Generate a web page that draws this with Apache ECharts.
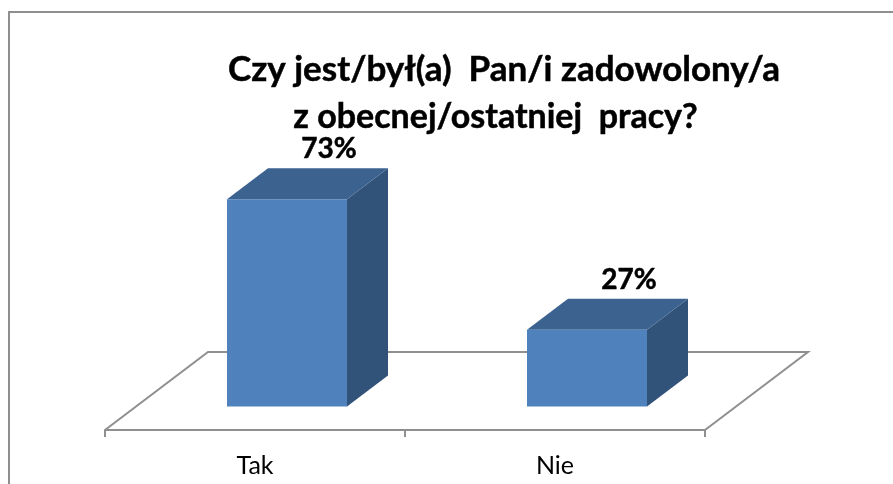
<!DOCTYPE html>
<html><head><meta charset="utf-8">
<style>html,body{margin:0;padding:0;background:#fff}#c{width:893px;height:484px}</style>
<script src="https://cdn.jsdelivr.net/npm/echarts@6/dist/echarts.min.js"></script>
</head><body><div id="c"></div>
<script>
const categories = ['Tak', 'Nie'];
const values = [73, 27];
const titleLine1 = 'Czy jest/był(a)  Pan/i zadowolony/a';
const titleLine2 = 'z obecnej/ostatniej  pracy?';

const FONT = 'Lato, "Open Sans", sans-serif';
const chart = echarts.init(document.getElementById('c'), null, {renderer: 'canvas'});
const shiftX = 32, shiftY = -23.5, depthX = 41, depthY = -31;
const GREY = '#8f8f8f';

function renderFloor(params, api) {
  const s = params.coordSys;
  const b = s.y + s.height, dx = 103, dy = -78;
  return {
    type: 'polyline', silent: true,
    shape: {points: [[s.x, b], [s.x + dx, b + dy], [s.x + s.width + dx, b + dy], [s.x + s.width, b]]},
    style: {fill: null, stroke: GREY, lineWidth: 2}
  };
}
function renderBar(params, api) {
  const top = api.coord([api.value(0), api.value(1)]);
  const base = api.coord([api.value(0), 0]);
  const w = api.size([1, 0])[0] * 0.4;
  const x0 = top[0] + shiftX - w / 2, x1 = x0 + w;
  const yt = top[1] + shiftY, yb = base[1] + shiftY;
  return {
    type: 'group',
    children: [
      {type: 'polygon', shape: {points: [[x1, yt], [x1 + depthX, yt + depthY], [x1 + depthX, yb + depthY], [x1, yb]]}, style: {fill: '#325379'}},
      {type: 'polygon', shape: {points: [[x0, yt], [x0 + depthX, yt + depthY], [x1 + depthX, yt + depthY], [x1, yt]]}, style: {fill: '#3c628f'}},
      {type: 'rect', shape: {x: x0, y: yt, width: w, height: yb - yt}, style: {fill: '#4f81bd'}},
      {type: 'text', style: {x: (x0 + x1) / 2 + depthX + 1, y: yt + depthY - 19, text: api.value(1) + '%', fill: '#000', font: 'bold 28px ' + FONT, align: 'center', verticalAlign: 'middle', stroke: '#000', lineWidth: 0.5}}
    ]
  };
}
const titleStyle = {fontFamily: FONT, fontWeight: 'bold', fontSize: 34, color: '#000', textBorderColor: '#000', textBorderWidth: 0.5};
chart.setOption({
  animation: false,
  backgroundColor: '#fff',
  title: [
    {text: titleLine1, left: 499, top: 47, textAlign: 'center', textStyle: {...titleStyle, fontSize: 35}},
    {text: titleLine2, left: 490.5, top: 95, textAlign: 'center', textStyle: titleStyle}
  ],
  graphic: [{type: 'rect', shape: {x: 9, y: 12, width: 900, height: 490}, style: {fill: null, stroke: GREY, lineWidth: 2}, silent: true}],
  grid: {left: 105, width: 600, top: 146, height: 284},
  xAxis: {
    type: 'category', data: categories, boundaryGap: true,
    axisLine: {lineStyle: {color: GREY, width: 2}},
    axisTick: {show: true, alignWithLabel: false, length: 7, lineStyle: {color: GREY, width: 2}},
    axisLabel: {color: '#000', fontFamily: FONT, fontSize: 25, margin: 23}
  },
  yAxis: {type: 'value', min: 0, max: 100, show: false, splitLine: {show: false}},
  series: [
    {type: 'custom', renderItem: renderFloor, data: [[0, 0]], silent: true, clip: false, z: 1},
    {type: 'custom', renderItem: renderBar, data: categories.map((c, i) => [i, values[i]]), encode: {x: 0, y: 1}, clip: false, z: 2}
  ]
});
</script></body></html>
